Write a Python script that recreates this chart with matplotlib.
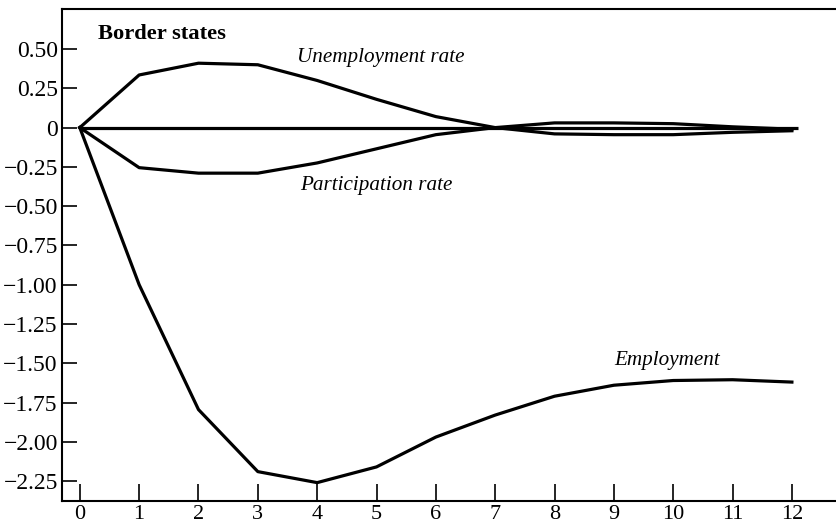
import matplotlib
matplotlib.use("Agg")
import matplotlib.pyplot as plt

# impulse responses, border states
quarters = [0, 1, 2, 3, 4, 5, 6, 7, 8, 9, 10, 11, 12]
unemployment = [0, 0.335, 0.41, 0.40, 0.30, 0.18, 0.07, 0.0, -0.04, -0.045, -0.045, -0.03, -0.02]
participation = [0, -0.255, -0.29, -0.29, -0.225, -0.135, -0.045, 0.0, 0.03, 0.03, 0.025, 0.005, -0.01]
employment = [0, -1.0, -1.795, -2.19, -2.26, -2.16, -1.97, -1.83, -1.71, -1.64, -1.61, -1.605, -1.62]
zero_x = [0, 12.1]
zero_y = [0, 0]

yticks = [0.5, 0.25, 0, -0.25, -0.5, -0.75, -1.0, -1.25, -1.5, -1.75, -2.0, -2.25]
ylabels = ["0.50", "0.25", "0", "\u22120.25", "\u22120.50", "\u22120.75", "\u22121.00",
           "\u22121.25", "\u22121.50", "\u22121.75", "\u22122.00", "\u22122.25"]

plt.rcParams['font.family'] = ['Liberation Serif', 'DejaVu Serif']

fig = plt.figure(figsize=(8.37, 5.27), dpi=100)
ax = fig.add_axes([62 / 837, 1 - 501 / 527, 1 - 62 / 837, (501 - 9) / 527])

lw = 2.3
ax.plot(zero_x, zero_y, color="black", lw=lw, solid_capstyle="butt")
ax.plot(quarters, unemployment, color="black", lw=lw)
ax.plot(quarters, participation, color="black", lw=lw)
ax.plot(quarters, employment, color="black", lw=lw)

ax.text(0.30, 0.595, "Border states", fontsize=16.2, fontweight="bold", ha="left", va="center")
ax.text(5.07, 0.445, "Unemployment rate", fontsize=15.2, style="italic", ha="center", va="center")
ax.text(4.99, -0.37, "Participation rate", fontsize=15.2, style="italic", ha="center", va="center")
ax.text(9.9, -1.483, "Employment", fontsize=15.2, style="italic", ha="center", va="center")

ax.set_xlim(-0.30, 12.76)
ax.set_ylim(-2.377, 0.755)
ax.set_xticks(quarters)
ax.set_xticklabels([str(q) for q in quarters], fontsize=16)
ax.set_yticks(yticks)
ax.set_yticklabels(ylabels, fontsize=17)
ax.tick_params(axis="y", direction="in", length=11, width=1.2, pad=3)
ax.tick_params(axis="x", direction="in", length=12, width=1.2, pad=3)

ax.spines["right"].set_visible(False)
for s in ["left", "top", "bottom"]:
    ax.spines[s].set_linewidth(1.5)

fig.savefig("out.png", dpi=100)
